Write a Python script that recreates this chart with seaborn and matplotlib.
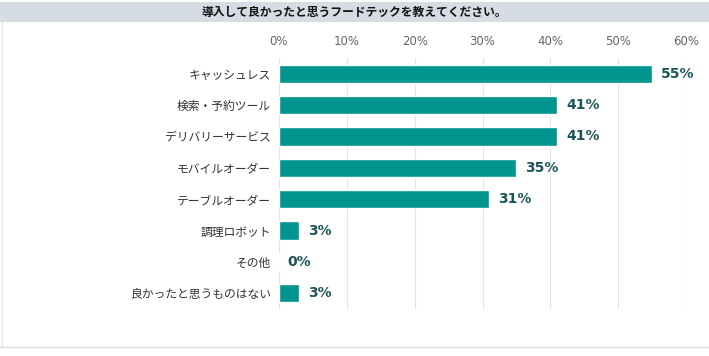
import numpy as np
import pandas as pd
import matplotlib
matplotlib.use("Agg")
import matplotlib.pyplot as plt
import seaborn as sns

categories = ["キャッシュレス", "検索・予約ツール", "デリバリーサービス", "モバイルオーダー",
              "テーブルオーダー", "調理ロボット", "その他", "良かったと思うものはない"]
values = [55, 41, 41, 35, 31, 3, 0, 3]
tick_values = [0, 10, 20, 30, 40, 50, 60]
title = "導入して良かったと思うフードテックを教えてください。"

sns.set_style("white")
plt.rcParams['font.family'] = ['Noto Sans CJK JP', 'DejaVu Sans']

df = pd.DataFrame({"category": categories, "value": values})

fig = plt.figure(figsize=(7.09, 3.56), dpi=100)
ax = fig.add_axes([279 / 709, 1 - 309 / 356, 407 / 709, 251 / 356])

sns.barplot(data=df, x="value", y="category", orient="h", color="#00958f",
            width=0.58, saturation=1, ax=ax)

ax.set_xlim(0, 60)
ax.set_ylim(len(categories) - 0.5, -0.5)
ax.set_xticks(tick_values)
ax.set_xticklabels([f"{t}%" for t in tick_values], color="#666666", fontsize=8.5,
                   family="DejaVu Sans")
ax.xaxis.tick_top()
ax.tick_params(axis="x", length=0, pad=7)
ax.tick_params(axis="y", length=0, pad=6, labelsize=8.5, labelcolor="#333333")
ax.set_xlabel("")
ax.set_ylabel("")
ax.grid(axis="x", color="#e3e3e3", linewidth=0.8)
ax.set_axisbelow(True)
for s in ax.spines.values():
    s.set_visible(False)

for i, v in enumerate(values):
    ax.text(v + 1.3, i, f"{v}%", va="center", ha="left", fontsize=10,
            fontweight="bold", color="#1d5557", family="DejaVu Sans")

# title band
fig.patches.append(plt.Rectangle((0, 1 - 22 / 356), 1, 20 / 356, transform=fig.transFigure,
                                 facecolor="#d6dce4", edgecolor="none", zorder=0))
fig.text(0.5, 1 - 12 / 356, title, ha="center", va="center", fontsize=8.5,
         fontweight="bold", color="#111111")
# borders
fig.lines.append(plt.Line2D([0, 1], [1 - 347 / 356] * 2, transform=fig.transFigure,
                            color="#dddddd", linewidth=1))
fig.lines.append(plt.Line2D([1.5 / 709] * 2, [1 - 22 / 356, 1 - 347 / 356], transform=fig.transFigure,
                            color="#e6e6e6", linewidth=1))

fig.savefig("out.png", dpi=100)
